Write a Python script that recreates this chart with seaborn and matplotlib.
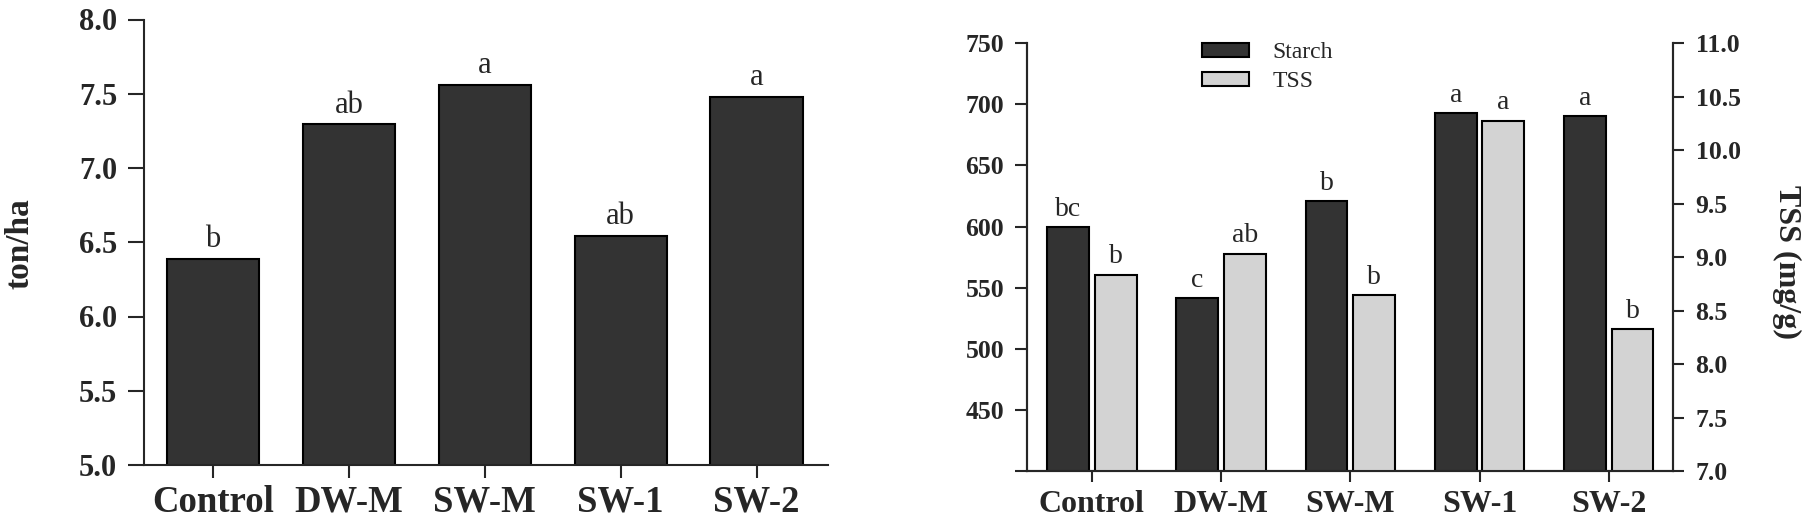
import numpy as np
import pandas as pd
import matplotlib
matplotlib.use("Agg")
import matplotlib.pyplot as plt
from matplotlib.patches import Patch
import seaborn as sns

# ---------------- data ----------------
categories = ["Control", "DW-M", "SW-M", "SW-1", "SW-2"]
yield_ton_ha = [6.39, 7.295, 7.562, 6.543, 7.479]
yield_letters = ["b", "ab", "a", "ab", "a"]

starch = [599.8, 541.8, 620.9, 692.8, 690.2]
starch_letters = ["bc", "c", "b", "a", "a"]
tss = [8.837, 9.033, 8.642, 10.276, 8.327]
tss_letters = ["b", "ab", "b", "a", "b"]

series_names = ["Starch", "TSS"]
left_yticks = [5.0, 5.5, 6.0, 6.5, 7.0, 7.5, 8.0]
starch_ticks = [400, 450, 500, 550, 600, 650, 700, 750]
tss_ticks = [7.0, 7.5, 8.0, 8.5, 9.0, 9.5, 10.0, 10.5, 11.0]

# ---------------- style ----------------
sns.set_theme(style="ticks")
plt.rcParams["font.family"] = ["Liberation Serif", "DejaVu Serif"]
plt.rcParams["axes.linewidth"] = 1.5

DARK = "#333333"
LIGHT = "#d3d3d3"

fig = plt.figure(figsize=(18.02, 5.18), dpi=100)
W, H = 1802, 518

def frac_box(x0, x1, ytop, ybot):
    return [x0 / W, 1 - ybot / H, (x1 - x0) / W, (ybot - ytop) / H]

# ---------------- left panel ----------------
ax1 = fig.add_axes(frac_box(144.3, 828, 19.5, 465))
df_y = pd.DataFrame({"cat": categories, "val": yield_ton_ha})
sns.barplot(data=df_y, x="cat", y="val", color=DARK, saturation=1,
            width=0.68, edgecolor="black", linewidth=1.5, ax=ax1)
ax1.set_ylim(5.0, 8.0)
ax1.set_xlim(-0.505, 4.525)
ax1.set_yticks(left_yticks)
ax1.set_yticklabels([f"{t:.1f}" for t in left_yticks])
ax1.set_xlabel("")
ax1.set_ylabel("ton/ha", fontsize=24, fontweight="bold", va="center")
ax1.yaxis.set_label_coords(-0.182, 0.496)
sns.despine(ax=ax1)
ax1.tick_params(axis="y", length=11.5, width=1.5, pad=8, labelsize=22)
ax1.tick_params(axis="x", length=9.4, width=1.5, pad=5, labelsize=26.5)
for lab in ax1.get_xticklabels() + ax1.get_yticklabels():
    lab.set_fontweight("bold")
for bar, letter in zip(ax1.patches, yield_letters):
    ax1.text(bar.get_x() + bar.get_width() / 2, bar.get_height() + 0.03, letter,
             ha="center", va="bottom", fontsize=22)

# ---------------- right panel ----------------
ax2 = fig.add_axes(frac_box(1027.3, 1673.3, 43.3, 471))
df_s = pd.DataFrame({"cat": categories, "val": starch, "series": "Starch"})
df_t = pd.DataFrame({"cat": categories, "val": tss, "series": "TSS"})
pal = {"Starch": DARK, "TSS": LIGHT}
sns.barplot(data=df_s, x="cat", y="val", hue="series", hue_order=series_names,
            palette=pal, saturation=1, width=0.735, gap=0.12, dodge=True,
            edgecolor="black", linewidth=1.5, legend=False, ax=ax2)
ax2.set_ylim(400, 750)
ax2.set_xlim(-0.5, 4.5)
ax2.set_yticks(starch_ticks)
ax2.set_yticklabels(["" if t == 400 else str(t) for t in starch_ticks])
ax2.set_xlabel("")
ax2.set_ylabel("")

ax3 = ax2.twinx()
sns.barplot(data=df_t, x="cat", y="val", hue="series", hue_order=series_names,
            palette=pal, saturation=1, width=0.735, gap=0.12, dodge=True,
            edgecolor="black", linewidth=1.5, legend=False, ax=ax3)
ax3.set_ylim(7.0, 11.0)
ax3.set_xlim(-0.5, 4.5)
ax3.set_yticks(tss_ticks)
ax3.set_yticklabels([f"{t:.1f}" for t in tss_ticks])
ax3.set_xlabel("")
ax3.set_ylabel("TSS (mg/g)", fontsize=23, fontweight="bold", rotation=270, va="center")
ax3.yaxis.set_label_coords(1.176, 0.489)

for a in (ax2, ax3):
    a.spines["top"].set_visible(False)
    a.spines["right"].set_visible(True)
    a.spines["left"].set_visible(True)
ax2.tick_params(axis="y", length=8.6, width=1.5, pad=8, labelsize=18.5)
ax2.tick_params(axis="x", length=8, width=1.5, pad=6, labelsize=23)
ax3.tick_params(axis="y", length=8, width=1.5, pad=8, labelsize=18.5)
for lab in ax2.get_xticklabels() + ax2.get_yticklabels() + ax3.get_yticklabels():
    lab.set_fontweight("bold")

for bar, letter in zip(ax2.patches, starch_letters):
    ax2.text(bar.get_x() + bar.get_width() / 2, bar.get_height() + 4, letter,
             ha="center", va="bottom", fontsize=20)
for bar, letter in zip(ax3.patches, tss_letters):
    ax3.text(bar.get_x() + bar.get_width() / 2, bar.get_height() + 0.05, letter,
             ha="center", va="bottom", fontsize=20)

handles = [Patch(facecolor=pal[s], edgecolor="black", linewidth=1.5) for s in series_names]
ax3.legend(handles, series_names, loc="upper left",
           bbox_to_anchor=(1201.7 / W, 1 - 42 / H), bbox_transform=fig.transFigure,
           frameon=False, fontsize=17, handlelength=2.0, handleheight=0.55,
           handletextpad=1.0, borderpad=0, borderaxespad=0, labelspacing=0.35)

fig.savefig("out.png", dpi=100)
